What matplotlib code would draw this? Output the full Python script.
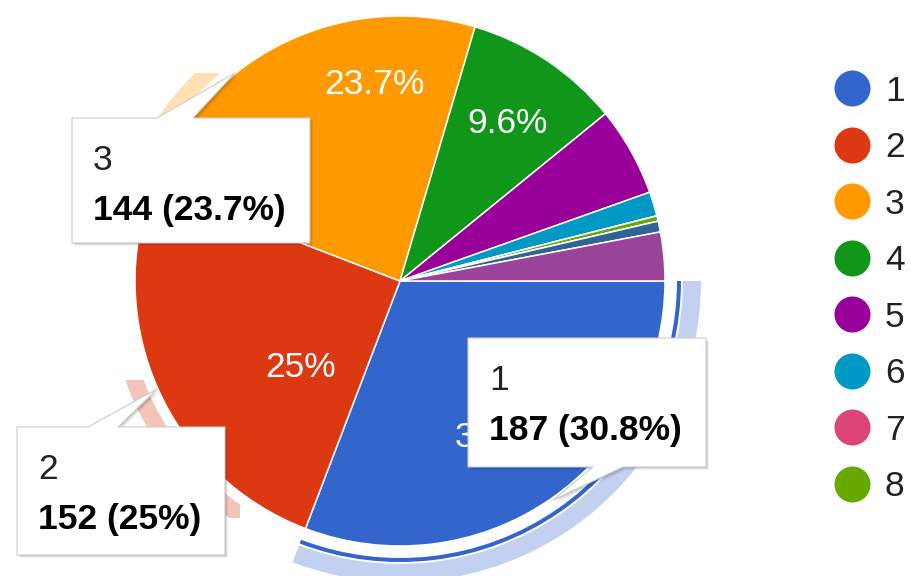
import math

import matplotlib
matplotlib.use("Agg")
import matplotlib.pyplot as plt
from matplotlib.patches import Wedge, Polygon, Rectangle

W, H = 911, 576

# data
categories = ['1', '2', '3', '4', '5', '6', '7', '8', '9', '10', '11']
counts = [187, 152, 144, 58, 33, 9, 0, 2, 0, 4, 18]
colors = ['#3366cc', '#dc3912', '#ff9900', '#109618', '#990099', '#0099c6',
          '#dd4477', '#66aa00', '#b82e2e', '#316395', '#994499']
legend_items = categories[:8]

# which slices get a percentage written on them
labelled = [0, 1, 2, 3]
label_turn = [0, -16, 19, 0]        # deg nudge from the slice middle
label_frac = [0.70, 0.49, 0.76, 0.73]

# tooltips: slice, box (x0, y0, x1, y1), tail side, tail base, tail tip
tooltips = [
    (2, (72, 118, 310, 243), 'top', (157, 193), (235, 73)),
    (1, (17, 427, 225, 555), 'top', (88, 118), (157, 389)),
    (0, (468, 338, 706, 467), 'bottom', (593, 623), (553, 500)),
]

FONT = 'Liberation Sans'
FS = 25.5
CAP = 0.36 * FS * 100 / 72          # half cap height in px

cx, cy, r = 400, 281, 265
total = sum(counts)


def pct(v):
    s = '{:.1f}'.format(100. * v / total)
    if s.endswith('.0'):
        s = s[:-2]
    return s + '%'


def light(c, a=0.3):
    c = matplotlib.colors.to_rgb(c)
    return tuple(1 - a + a * x for x in c)


fig = plt.figure(figsize=(W / 100, H / 100), dpi=100)
ax = fig.add_axes([0, 0, 1, 1])

wedges, _ = ax.pie(counts, colors=colors, startangle=0, counterclock=True,
                   center=(cx, cy), radius=r,
                   wedgeprops=dict(edgecolor='white', linewidth=1.1))
ax.set_xlim(0, W)
ax.set_ylim(H, 0)
ax.set_aspect('equal')
ax.axis('off')

# selected slice 1: thin dark ring + pale hover ring
w0 = wedges[0]
ax.add_patch(Wedge((cx, cy), r + 16, w0.theta1, w0.theta2, width=4,
                   color=colors[0], lw=0))
ax.add_patch(Wedge((cx, cy), r + 36, w0.theta1, w0.theta2, width=18,
                   color=light(colors[0]), lw=0))

# pale rings of slices 2 and 3, mostly hidden under the tooltips
for i, clip in [(1, (0, 380, 240, 138)), (2, (0, 73, 400, 60))]:
    wi = wedges[i]
    ring = Wedge((cx, cy), r + 27, wi.theta1, wi.theta2, width=17,
                 color=light(colors[i]), lw=0)
    ax.add_patch(ring)
    rect = Rectangle(clip[:2], clip[2], clip[3], transform=ax.transData)
    ring.set_clip_path(rect)

# percentage labels
for k, i in enumerate(labelled):
    wi = wedges[i]
    a = math.radians((wi.theta1 + wi.theta2) / 2 + label_turn[k])
    x = cx + label_frac[k] * r * math.cos(a)
    y = cy + label_frac[k] * r * math.sin(a)
    ax.text(x, y + CAP, pct(counts[i]), color='white', fontsize=FS,
            family=FONT, ha='center', va='baseline', zorder=3)

# tooltips
for i, (x0, y0, x1, y1), side, (b0, b1), tip in tooltips:
    if side == 'top':
        pts = [(x0, y0), (b0, y0), tip, (b1, y0), (x1, y0), (x1, y1), (x0, y1)]
    else:
        pts = [(x0, y0), (x1, y0), (x1, y1), (b1, y1), tip, (b0, y1), (x0, y1)]
    for d, al in [(3, 0.06), (2, 0.08), (1, 0.1)]:
        ax.add_patch(Polygon([(px + d, py + d) for px, py in pts], closed=True,
                             facecolor='black', alpha=al, lw=0, zorder=4))
    ax.add_patch(Polygon(pts, closed=True, facecolor='white',
                         edgecolor='#cccccc', lw=0.8, zorder=5))
    ax.text(x0 + 21, y0 + 39 + CAP, categories[i], fontsize=FS, family=FONT,
            color='#222222', ha='left', va='baseline', zorder=6)
    ax.text(x0 + 21, y0 + 89 + CAP,
            '{} ({})'.format(counts[i], pct(counts[i])), fontsize=FS,
            family=FONT, fontweight='bold', color='black', ha='left',
            va='baseline', zorder=6)

# legend
for k, name in enumerate(legend_items):
    ly = 88 + k * 56.5
    ax.scatter([852], [ly], s=(36 * 0.72) ** 2, color=colors[k], lw=0,
               zorder=3)
    ax.text(885, ly + CAP, name, fontsize=FS, family=FONT, color='#222222',
            ha='left', va='baseline')

fig.savefig('out.png', dpi=100)
